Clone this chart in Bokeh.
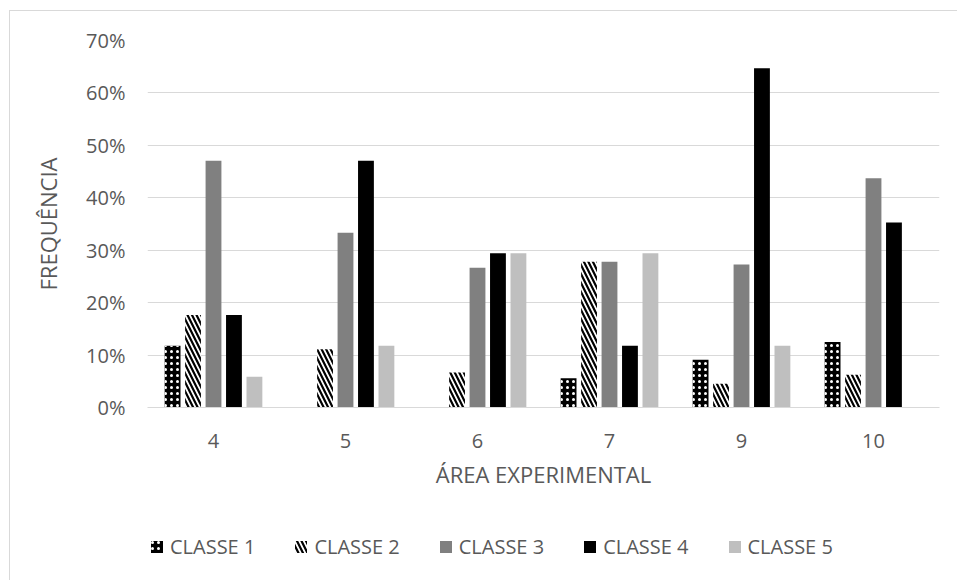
from bokeh.plotting import figure
from bokeh.layouts import column
from bokeh.models import (ColumnDataSource, FactorRange, Range1d, NumeralTickFormatter,
                          Legend, LegendItem, FixedTicker, InlineStyleSheet)
from bokeh.transform import dodge
from bokeh.embed import file_html
from bokeh.resources import INLINE

areas = ["4", "5", "6", "7", "9", "10"]
classe1 = [0.1176, 0.0, 0.0, 0.0556, 0.0909, 0.125]
classe2 = [0.1765, 0.1111, 0.0667, 0.2778, 0.0455, 0.0625]
classe3 = [0.4706, 0.3333, 0.2667, 0.2778, 0.2727, 0.4375]
classe4 = [0.1765, 0.4706, 0.2941, 0.1176, 0.6471, 0.3529]
classe5 = [0.0588, 0.1176, 0.2941, 0.2941, 0.1176, 0.0]
series_names = ["CLASSE 1", "CLASSE 2", "CLASSE 3", "CLASSE 4", "CLASSE 5"]
y_ticks = [0, 0.1, 0.2, 0.3, 0.4, 0.5, 0.6, 0.7]

FONT = "Open Sans"
TXT = "#595959"
GRID = "#d9d9d9"
TICK_SIZE = "20px"
TITLE_SIZE = "22px"

src = ColumnDataSource(dict(area=areas, c1=classe1, c2=classe2, c3=classe3,
                            c4=classe4, c5=classe5))

p = figure(width=957, height=510, x_range=FactorRange(*areas, range_padding=0),
           y_range=Range1d(0, 0.7), output_backend="svg", toolbar_location=None,
           min_border_left=147, min_border_right=18, min_border_top=40,
           min_border_bottom=103)
p.outline_line_color = None
p.background_fill_color = "white"
p.border_fill_color = "white"
p.stylesheets = [InlineStyleSheet(css="""
:host::after { content: ''; position: absolute; left: 9px; top: 10px; right: 0; bottom: 0;
  border-top: 1px solid #d9d9d9; border-left: 1px solid #d9d9d9; pointer-events: none; }
""")]

# legend strip below the chart
p2 = figure(width=957, height=70, x_range=FactorRange(*areas, range_padding=0),
            y_range=Range1d(5, 6), output_backend="svg", toolbar_location=None,
            min_border=0, min_border_left=0, min_border_right=0,
            min_border_top=0, min_border_bottom=0)
p2.axis.visible = False
p2.grid.visible = False
p2.outline_line_color = None
p2.background_fill_color = "white"
p2.border_fill_color = "white"
p2.stylesheets = [InlineStyleSheet(css="""
:host::after { content: ''; position: absolute; left: 9px; top: 0; right: 0; bottom: 0;
  border-left: 1px solid #d9d9d9; pointer-events: none; }
""")]

w = 0.12
step = 0.155
styles = [
    dict(fill_color="black", hatch_pattern="dot", hatch_color="white", hatch_scale=6, hatch_weight=1.5),
    dict(fill_color="white", hatch_pattern="left_diagonal_line", hatch_color="black", hatch_scale=9, hatch_weight=2.2),
    dict(fill_color="#808080"),
    dict(fill_color="#000000"),
    dict(fill_color="#bfbfbf"),
]
cols = ["c1", "c2", "c3", "c4", "c5"]
items = []
for i, (c, st, name) in enumerate(zip(cols, styles, series_names)):
    p.vbar(x=dodge("area", (i - 2) * step, range=p.x_range), top=c, width=w,
           source=src, line_color=None, **st)
    r2 = p2.vbar(x=dodge("area", (i - 2) * step, range=p2.x_range), top=c, width=w,
                 source=src, line_color=None, **st)
    items.append(LegendItem(label=name, renderers=[r2]))

p.yaxis.ticker = FixedTicker(ticks=y_ticks)
p.yaxis.formatter = NumeralTickFormatter(format="0%")
for ax in (p.xaxis[0], p.yaxis[0]):
    ax.major_tick_line_color = None
    ax.minor_tick_line_color = None
    ax.major_label_text_font = FONT
    ax.major_label_text_font_size = TICK_SIZE
    ax.major_label_text_color = TXT
    ax.axis_label_text_font = FONT
    ax.axis_label_text_font_size = TITLE_SIZE
    ax.axis_label_text_color = TXT
    ax.axis_label_text_font_style = "normal"
p.yaxis.axis_line_color = None
p.xaxis.axis_line_color = GRID
p.xaxis.major_label_standoff = 20
p.yaxis.major_label_standoff = 16
p.xaxis.axis_label = "ÁREA EXPERIMENTAL"
p.yaxis.axis_label = "FREQUÊNCIA"
p.xaxis.axis_label_standoff = 8
p.yaxis.axis_label_standoff = 20

p.xgrid.grid_line_color = None
p.ygrid.grid_line_color = GRID

legend = Legend(items=items, orientation="horizontal", location=(2, 20),
                label_text_font=FONT, label_text_font_size=TICK_SIZE, label_text_color=TXT,
                glyph_width=15, glyph_height=15, label_standoff=6, spacing=38,
                border_line_color=None, background_fill_alpha=0, margin=0, padding=0)
p2.add_layout(legend, "center")

layout = column(p, p2, spacing=0)
open("out.html", "w").write(file_html(layout, INLINE))
